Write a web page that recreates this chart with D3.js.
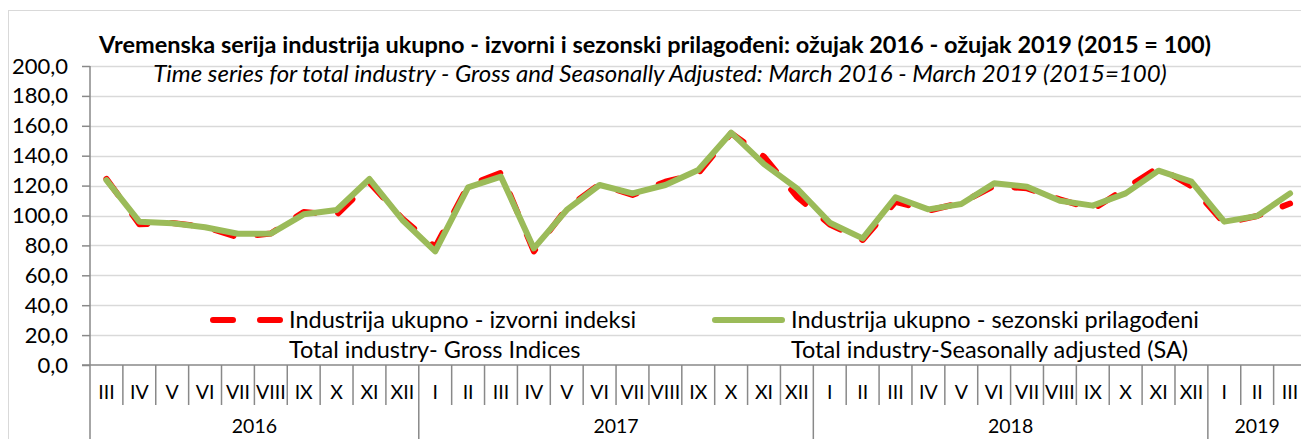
<!DOCTYPE html>
<html>
<head>
<meta charset="utf-8">
<script src="https://cdn.jsdelivr.net/npm/d3@7"></script>
<style>
  body { margin: 0; background: #fff; }
  svg { display: block; font-family: Lato, "Open Sans", sans-serif; }
  .grid line { stroke: #d9d9d9; stroke-width: 1.3; }
</style>
</head>
<body>
<svg id="chart" width="1301" height="439"></svg>
<script>
// months from March 2016 to March 2019
const months = ["III","IV","V","VI","VII","VIII","IX","X","XI","XII",
  "I","II","III","IV","V","VI","VII","VIII","IX","X","XI","XII",
  "I","II","III","IV","V","VI","VII","VIII","IX","X","XI","XII",
  "I","II","III"];
const years = [
  { label: "2016", start: 0, end: 10 },
  { label: "2017", start: 10, end: 22 },
  { label: "2018", start: 22, end: 34 },
  { label: "2019", start: 34, end: 37 }
];
const gross = [124.5, 94.2, 95.0, 92.5, 85.4, 88.0, 102.3, 100.5, 122.0, 98.0,
  79.0, 120.0, 128.6, 76.0, 104.8, 121.0, 113.7, 122.6, 128.2, 155.0, 139.3, 112.6,
  94.0, 83.6, 109.2, 103.2, 108.6, 119.7, 118.2, 110.8, 104.1, 118.2, 132.2, 119.5,
  94.8, 99.7, 108.0];
const seasonal = [123.7, 95.9, 94.8, 92.1, 87.8, 87.9, 100.8, 103.7, 124.4, 97.0,
  76.0, 118.8, 126.0, 78.0, 103.7, 120.4, 114.8, 120.4, 130.4, 155.4, 134.4, 118.2,
  95.2, 84.7, 112.2, 104.1, 107.7, 121.5, 119.3, 109.9, 106.6, 114.8, 130.0, 122.6,
  95.9, 99.7, 114.8];
const yTicks = [0, 20, 40, 60, 80, 100, 120, 140, 160, 180, 200];

const title = "Vremenska serija industrija ukupno - izvorni i sezonski prilagođeni: ožujak 2016 - ožujak 2019 (2015 = 100)";
const subtitle = "Time series for total industry - Gross and Seasonally Adjusted: March 2016 - March 2019 (2015=100)";
const legendItems = [
  { name: "Industrija ukupno - izvorni indeksi", en: "Total industry- Gross Indices", color: "#ff0000", dash: "20 27", x: 210 },
  { name: "Industrija ukupno - sezonski prilagođeni", en: "Total industry-Seasonally adjusted (SA)", color: "#9bbb59", dash: null, x: 712 }
];

const svg = d3.select("#chart");
const margin = { left: 90, top: 66, bottom: 365 };
const xEnd = 1306.5;

// chart area border
svg.append("rect")
  .attr("x", 8.5).attr("y", 10.5)
  .attr("width", 1400).attr("height", 600)
  .attr("fill", "none").attr("stroke", "#d9d9d9").attr("stroke-width", 1);

const x = d3.scaleBand()
  .domain(d3.range(months.length))
  .range([margin.left, xEnd])
  .padding(0);

const y = d3.scaleLinear()
  .domain([0, 200])
  .range([margin.bottom, margin.top]);

// gridlines
svg.append("g")
  .attr("class", "grid")
  .selectAll("line")
  .data(yTicks.filter(d => d > 0))
  .join("line")
  .attr("x1", margin.left).attr("x2", xEnd)
  .attr("y1", d => Math.round(y(d)) + 0.5)
  .attr("y2", d => Math.round(y(d)) + 0.5);

// y axis
const yAxis = svg.append("g")
  .attr("transform", "translate(" + margin.left + ",0)")
  .call(d3.axisLeft(y).tickValues(yTicks).tickSize(8).tickPadding(14)
    .tickFormat(d => d3.format(".1f")(d).replace(".", ",")));
yAxis.select(".domain").remove();
yAxis.selectAll(".tick line").attr("stroke", "#898989").attr("stroke-width", 1.5);
yAxis.selectAll(".tick text").attr("font-size", 22).attr("fill", "#000")
  .attr("font-family", "Lato, sans-serif");
svg.append("line")
  .attr("x1", margin.left).attr("x2", margin.left)
  .attr("y1", margin.top).attr("y2", 439)
  .attr("stroke", "#898989").attr("stroke-width", 1.5);

// x axis line
svg.append("line")
  .attr("x1", margin.left - 8).attr("x2", xEnd)
  .attr("y1", margin.bottom).attr("y2", margin.bottom)
  .attr("stroke", "#898989").attr("stroke-width", 1.5);

// month separators and labels
const bounds = d3.range(1, months.length + 1);
const yearBounds = years.map(d => d.end);
svg.append("g")
  .selectAll("line")
  .data(bounds)
  .join("line")
  .attr("x1", d => x(d - 1) + x.bandwidth())
  .attr("x2", d => x(d - 1) + x.bandwidth())
  .attr("y1", margin.bottom)
  .attr("y2", d => yearBounds.includes(d) ? 439 : 405)
  .attr("stroke", "#898989").attr("stroke-width", 1.5);

svg.append("g")
  .selectAll("text")
  .data(months)
  .join("text")
  .attr("x", (d, i) => x(i) + x.bandwidth() / 2)
  .attr("y", 399)
  .attr("text-anchor", "middle")
  .attr("font-size", 19.5)
  .text(d => d);

svg.append("g")
  .selectAll("text")
  .data(years)
  .join("text")
  .attr("x", d => (x(d.start) + x(d.end - 1) + x.bandwidth()) / 2)
  .attr("y", 433)
  .attr("text-anchor", "middle")
  .attr("font-size", 19.5)
  .text(d => d.label);

// lines
const line = d3.line()
  .x((d, i) => x(i) + x.bandwidth() / 2)
  .y(d => y(d));

svg.append("path")
  .datum(gross)
  .attr("d", line)
  .attr("fill", "none")
  .attr("stroke", "#ff0000")
  .attr("stroke-width", 6)
  .attr("stroke-dasharray", "20 24")
  .attr("stroke-linecap", "round")
  .attr("stroke-linejoin", "round");

svg.append("path")
  .datum(seasonal)
  .attr("d", line)
  .attr("fill", "none")
  .attr("stroke", "#9bbb59")
  .attr("stroke-width", 6)
  .attr("stroke-linecap", "round")
  .attr("stroke-linejoin", "round");

// titles
svg.append("text")
  .attr("x", 655).attr("y", 53)
  .attr("text-anchor", "middle")
  .attr("font-size", 23.5).attr("font-weight", "bold")
  .text(title);
svg.append("text")
  .attr("x", 660).attr("y", 82)
  .attr("text-anchor", "middle")
  .attr("font-size", 24).attr("font-style", "italic")
  .text(subtitle);

// legend
const legend = svg.append("g");
legendItems.forEach(item => {
  legend.append("line")
    .attr("x1", item.x + 3).attr("x2", item.x + 70)
    .attr("y1", 320).attr("y2", 320)
    .attr("stroke", item.color).attr("stroke-width", 6)
    .attr("stroke-linecap", "round")
    .attr("stroke-dasharray", item.dash);
  legend.append("text")
    .attr("x", item.x + 79).attr("y", 328)
    .attr("font-size", 23.5)
    .text(item.name);
  legend.append("text")
    .attr("x", item.x + 79).attr("y", 358)
    .attr("font-size", 23.5)
    .text(item.en);
});
</script>
</body>
</html>
